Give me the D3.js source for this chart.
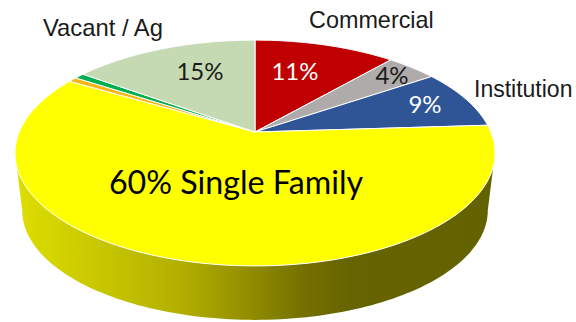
<!DOCTYPE html>
<html>
<head>
<meta charset="utf-8">
<script src="https://cdn.jsdelivr.net/npm/d3@7"></script>
<style>
  html, body { margin: 0; padding: 0; background: #fff; }
  svg { display: block; }
</style>
</head>
<body>
<div id="chart"></div>
<script>
const categories = ['Commercial', 'Other', 'Institution', 'Single Family', 'Industrial', 'Park', 'Vacant / Ag'];
const values = [11.4, 4.1, 8.5, 59.5, 0.7, 0.8, 15];
const sliceColors = ['#C00000', '#AFABAB', '#2F5597', '#FFFF00', '#F9B514', '#00B050', '#C5DAB2'];

const width = 576;
const height = 322;

// tilted pie: a homography takes the flat disc to the screen, so the apex sits off the ellipse centre
const apexX = 255;
const apexY = 132;
const tilt = 0.186;
const scaleU = 235.8;
const scaleV = 109;

function project(angle, scale, offsetY) {
  const u = Math.sin(angle);
  const v = -Math.cos(angle);
  const w = 1 - tilt * v;
  return [apexX + scale * scaleU * u / w, offsetY + scale * scaleV * v / w];
}

const svg = d3.select('#chart')
  .append('svg')
  .attr('width', width)
  .attr('height', height);

const defs = svg.append('defs');
const gradient = defs.append('linearGradient')
  .attr('id', 'wall-gradient')
  .attr('gradientUnits', 'userSpaceOnUse')
  .attr('x1', 15)
  .attr('x2', 495)
  .attr('y1', 0)
  .attr('y2', 0);

[[0, '#DEDE00'], [0.2, '#C4C400'], [0.35, '#B2AE00'], [0.5, '#8E8A00'], [0.6, '#757000'], [0.7, '#666400'], [1, '#636200']]
  .forEach(s => gradient.append('stop').attr('offset', s[0]).attr('stop-color', s[1]));

const line = d3.line();

// side wall, between the widest points of the top and bottom rims
const wallStart = Math.acos(-tilt);
const wallEnd = 2 * Math.PI - wallStart;
const steps = d3.range(0, 121).map(i => wallStart + (wallEnd - wallStart) * i / 120);
const wallPoints = steps.map(a => project(a, 1, apexY))
  .concat(steps.slice().reverse().map(a => project(a, 0.97, 190)));

svg.append('path')
  .attr('d', line(wallPoints) + 'Z')
  .attr('fill', 'url(#wall-gradient)');

const pie = d3.pie().value(d => d).sort(null);
const arcs = pie(values);

function slicePath(d) {
  const n = Math.max(4, Math.ceil((d.endAngle - d.startAngle) * 60));
  const pts = [[apexX, apexY]];
  for (let i = 0; i <= n; i++) {
    pts.push(project(d.startAngle + (d.endAngle - d.startAngle) * i / n, 1, apexY));
  }
  return line(pts) + 'Z';
}

svg.selectAll('.slice')
  .data(arcs)
  .enter()
  .append('path')
  .attr('class', 'slice')
  .attr('d', slicePath)
  .attr('fill', (d, i) => sliceColors[i])
  .attr('stroke', '#fff')
  .attr('stroke-width', 1)
  .attr('stroke-linejoin', 'round');

const outerLabels = [
  { text: 'Vacant / Ag', x: 43, y: 36, size: 23.8 },
  { text: 'Commercial', x: 309, y: 28, size: 23.4 },
  { text: 'Institution', x: 474, y: 97, size: 23 }
];

svg.selectAll('.outer-label')
  .data(outerLabels)
  .enter()
  .append('text')
  .attr('class', 'outer-label')
  .attr('x', d => d.x)
  .attr('y', d => d.y)
  .attr('font-family', '"Liberation Sans", Arial, sans-serif')
  .attr('font-size', d => d.size)
  .attr('fill', '#1a1a1a')
  .text(d => d.text);

const innerLabels = [
  { text: '15%', x: 200, y: 80, size: 24, color: '#1a1a1a' },
  { text: '11%', x: 295, y: 80, size: 24, color: '#fff' },
  { text: '4%', x: 392, y: 84, size: 24, color: '#1a1a1a' },
  { text: '9%', x: 425, y: 113, size: 24, color: '#fff' },
  { text: '60% Single Family', x: 236, y: 194, size: 32.2, color: '#000' }
];

svg.selectAll('.inner-label')
  .data(innerLabels)
  .enter()
  .append('text')
  .attr('class', 'inner-label')
  .attr('x', d => d.x)
  .attr('y', d => d.y)
  .attr('text-anchor', 'middle')
  .attr('font-family', 'Lato, "Open Sans", sans-serif')
  .attr('font-size', d => d.size)
  .attr('fill', d => d.color)
  .text(d => d.text);
</script>
</body>
</html>
